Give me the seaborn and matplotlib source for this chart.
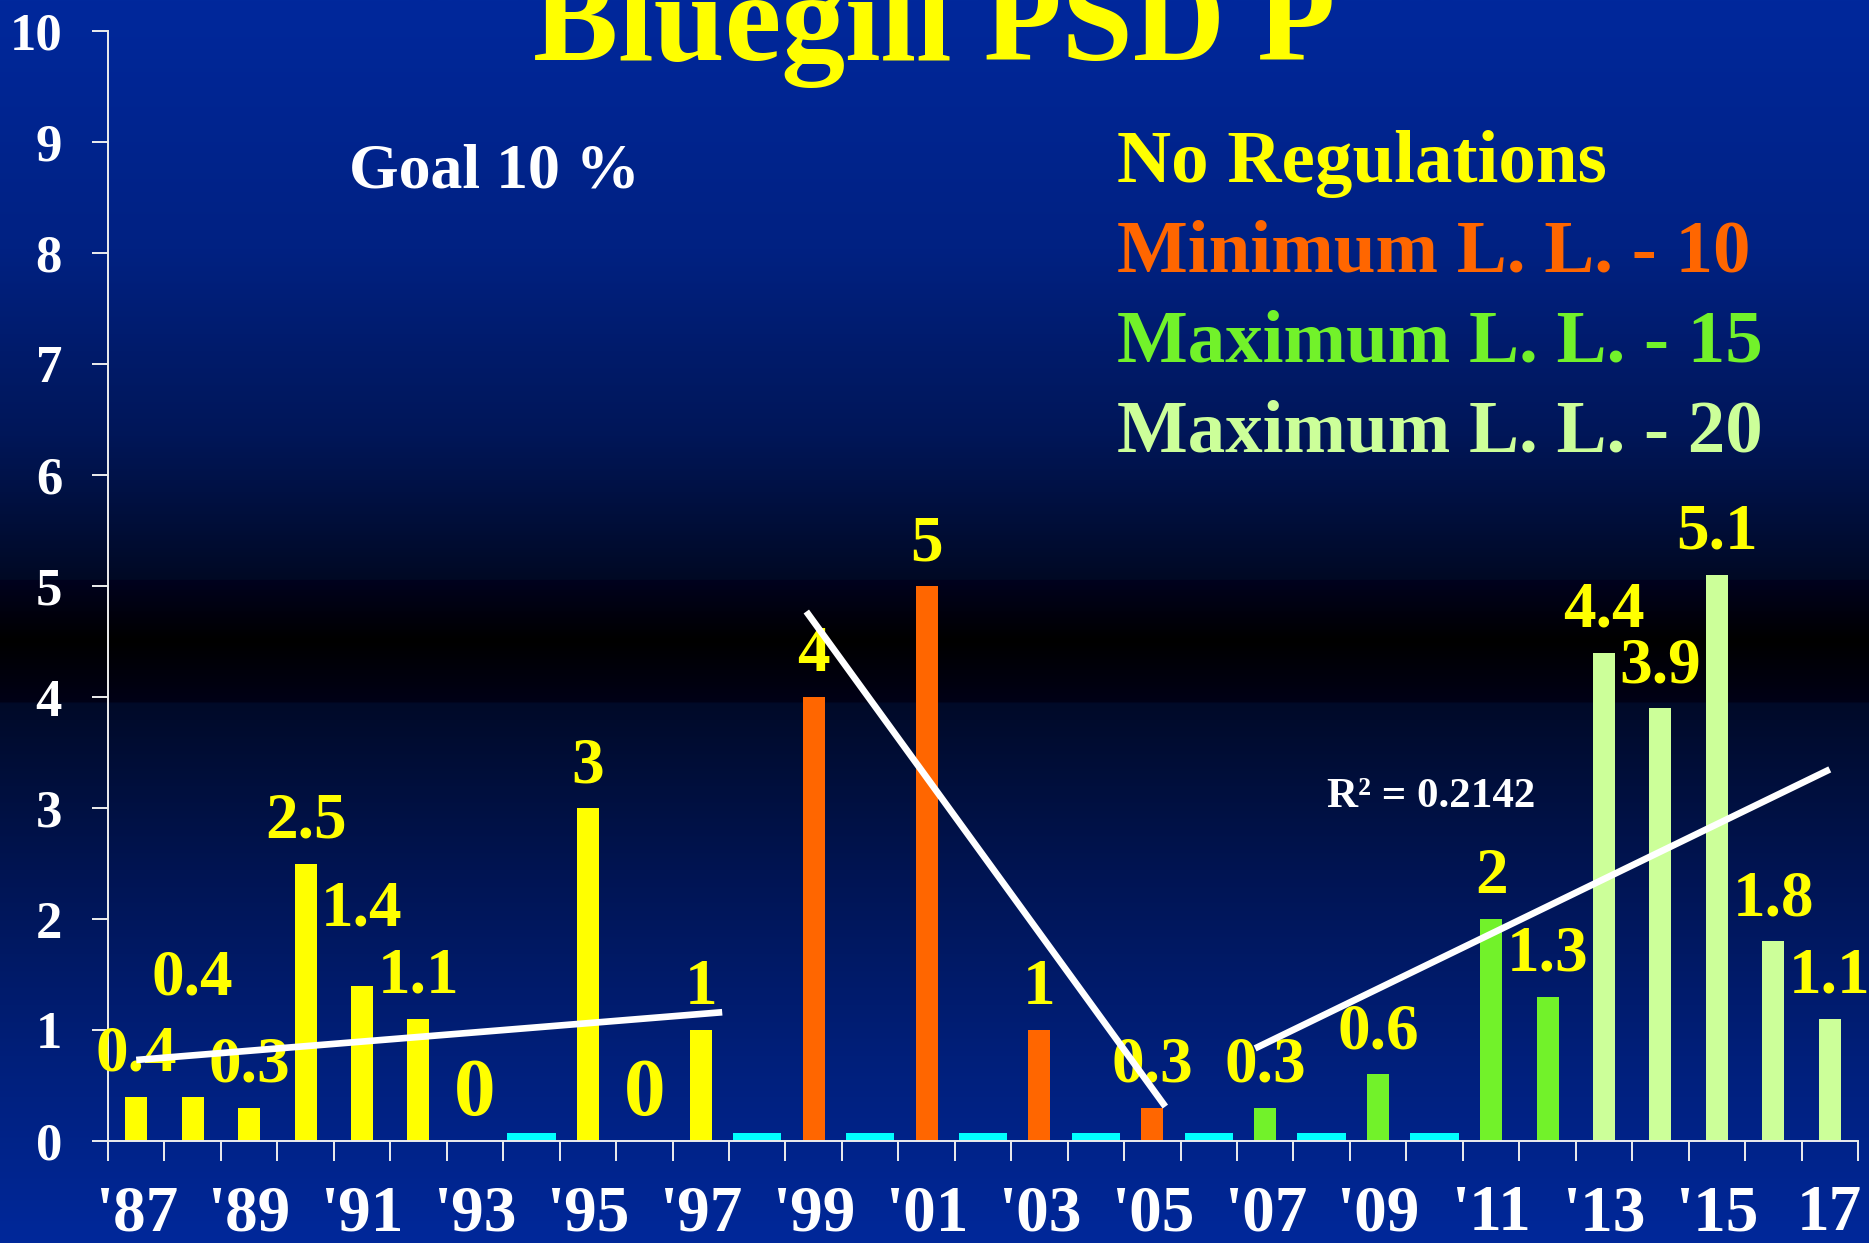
import numpy as np
import pandas as pd
import matplotlib
matplotlib.use("Agg")
import matplotlib.pyplot as plt
from matplotlib.colors import LinearSegmentedColormap
import seaborn as sns

# ---------------- data ----------------
all_years = list(range(1987, 2018))
year_labels = [str(y) for y in all_years]
tick_labels = ["'87", "'89", "'91", "'93", "'95", "'97", "'99", "'01", "'03",
               "'05", "'07", "'09", "'11", "'13", "'15", "17"]

years = [1987, 1988, 1989, 1990, 1991, 1992, 1993, 1995, 1996, 1997,
         1999, 2001, 2003, 2005,
         2007, 2009, 2011, 2012,
         2013, 2014, 2015, 2016, 2017]
psd_p = [0.4, 0.4, 0.3, 2.5, 1.4, 1.1, 0, 3, 0, 1,
         4, 5, 1, 0.3,
         0.3, 0.6, 2, 1.3,
         4.4, 3.9, 5.1, 1.8, 1.1]
regulation = (["No Regulations"] * 10 + ["Minimum L. L. - 10"] * 4 +
              ["Maximum L. L. - 15"] * 4 + ["Maximum L. L. - 20"] * 5)

no_sample_years = [1994, 1998, 2000, 2002, 2004, 2006, 2008, 2010]
no_sample_height = [0.07] * len(no_sample_years)

# hand-drawn trend segments (year, value)
trend_noreg_x = [1987.0, 1997.38]
trend_noreg_y = [0.73, 1.16]
trend_min_x = [1998.87, 2005.23]
trend_min_y = [4.77, 0.31]
# span of the fitted (R^2) trend line
trend_fit_span = [2006.82, 2017.0]

reg_order = ["No Regulations", "Minimum L. L. - 10",
             "Maximum L. L. - 15", "Maximum L. L. - 20"]
reg_colors = ["#FFFF00", "#FF6600", "#72F22A", "#CCFF99"]
nosample_color = "#00FFFF"

# extra label lifts (points) and larger "0" labels, as on the slide
label_lift = {1988: 55, 1991: 24.5}
label_size = {1993: 60, 1996: 60}

# ---------------- style ----------------
sns.set_style("ticks")
plt.rcParams["font.family"] = ["Liberation Serif", "DejaVu Serif"]
plt.rcParams["font.weight"] = "bold"

W, H = 1869, 1243
fig = plt.figure(figsize=(W / 100, H / 100), dpi=100)

# background gradient
stops = [
    (0.000, (0, 40, 156)),
    (0.200, (0, 33, 130)),
    (0.350, (0, 22, 88)),
    (0.440, (0, 12, 48)),
    (0.466, (0, 9, 36)),
    (0.467, (0, 2, 30)),
    (0.515, (0, 0, 0)),
    (0.564, (0, 1, 22)),
    (0.566, (0, 10, 40)),
    (0.700, (0, 20, 82)),
    (0.850, (0, 31, 122)),
    (1.000, (0, 40, 154)),
]
cmap = LinearSegmentedColormap.from_list(
    "bg", [(p, tuple(c / 255 for c in rgb)) for p, rgb in stops], N=1024)
grad = np.linspace(0, 1, 1243).reshape(-1, 1)
bg = fig.add_axes([0, 0, 1, 1], zorder=-10)
bg.imshow(grad, aspect="auto", cmap=cmap, extent=[0, 1, 0, 1], origin="upper")
bg.set_axis_off()

ax = fig.add_axes([108 / W, 102 / H, (1858 - 108) / W, (1141 - 31) / H])
ax.set_facecolor("none")

df = pd.DataFrame({"year": [str(y) for y in years], "psd": psd_p,
                   "regulation": regulation})
df_ns = pd.DataFrame({"year": [str(y) for y in no_sample_years],
                      "psd": no_sample_height})

sns.barplot(data=df, x="year", y="psd", hue="regulation", order=year_labels,
            hue_order=reg_order, palette=reg_colors, dodge=False, width=0.39,
            saturation=1, errorbar=None, legend=False, ax=ax, linewidth=0)
sns.barplot(data=df_ns, x="year", y="psd", order=year_labels,
            color=nosample_color, width=0.86, saturation=1, errorbar=None,
            ax=ax, linewidth=0)

# value labels
for y, v in zip(years, psd_p):
    pos = all_years.index(y)
    ax.annotate(f"{v:g}", (pos, v), xytext=(0, 18.7 + label_lift.get(y, 0)),
                textcoords="offset points", ha="center", va="baseline",
                color="#FFFF00", fontsize=label_size.get(y, 47),
                fontweight="bold", annotation_clip=False, zorder=5)

# trend lines
lw = 4.8
ax.plot(np.array(trend_noreg_x) - all_years[0], trend_noreg_y,
        color="white", lw=lw, solid_capstyle="butt", zorder=6)
ax.plot(np.array(trend_min_x) - all_years[0], trend_min_y,
        color="white", lw=lw, solid_capstyle="butt", zorder=6)
late = [(y - all_years[0], v) for y, v, r in zip(years, psd_p, regulation)
        if r.startswith("Maximum")]
lx = np.array([p[0] for p in late], float)
ly = np.array([p[1] for p in late], float)
slope, icpt = np.polyfit(lx, ly, 1)
r2 = np.corrcoef(lx, ly)[0, 1] ** 2
xx = np.array(trend_fit_span) - all_years[0]
ax.plot(xx, slope * xx + icpt, color="white", lw=lw,
        solid_capstyle="butt", zorder=6)

# axes
ax.set_xlim(-0.5, len(all_years) - 0.5)
ax.set_ylim(0, 10)
ax.set_xlabel("")
ax.set_ylabel("")
for s in ["top", "right"]:
    ax.spines[s].set_visible(False)
for s in ["left", "bottom"]:
    ax.spines[s].set_color("#EEEEEE")
    ax.spines[s].set_linewidth(1.4)
ax.set_yticks(range(0, 11))
ax.set_yticklabels([str(i) for i in range(0, 11)])
ax.set_xticks(range(0, len(all_years), 2))
ax.set_xticklabels(tick_labels)
ax.set_xticks(np.arange(-0.5, len(all_years), 1.0), minor=True)
ax.tick_params(axis="x", which="major", length=0, pad=31, labelsize=47,
               labelcolor="white")
ax.tick_params(axis="x", which="minor", length=14.4, width=1.4,
               color="#EEEEEE", direction="out")
ax.tick_params(axis="y", which="major", length=11.5, width=1.4,
               color="#EEEEEE", pad=21.6, labelsize=38, labelcolor="white",
               direction="out")
for lab in ax.get_xticklabels() + ax.get_yticklabels():
    lab.set_fontweight("bold")

# texts
fig.text(0.5, 1 - 60 / H, "Bluegill PSD P", ha="center", va="baseline",
         color="#FFFF00", fontsize=92, fontweight="bold")
fig.text(349 / W, 1 - 188 / H, "Goal 10 %", ha="left", va="baseline",
         color="white", fontsize=46, fontweight="bold")
leg_base = [182, 272, 361, 451]
for name, col, b in zip(reg_order, reg_colors, leg_base):
    fig.text(1117 / W, 1 - b / H, name, ha="left", va="baseline",
             color=col, fontsize=54, fontweight="bold")
fig.text(1327 / W, 1 - 807 / H, f"R\u00b2 = {r2:.4f}", ha="left",
         va="baseline", color="white", fontsize=31, fontweight="bold")

fig.savefig("out.png", dpi=100)
